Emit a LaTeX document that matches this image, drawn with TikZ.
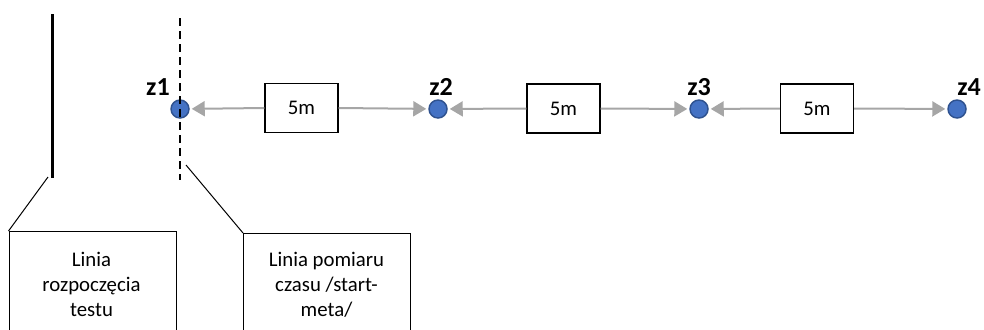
\documentclass[tikz,border=0pt]{standalone}
\usepackage{fontspec}
\setmainfont{Carlito}
\usetikzlibrary{arrows.meta}
\definecolor{arrgray}{RGB}{166,166,166}
\definecolor{ptfill}{RGB}{68,114,196}
\definecolor{ptdraw}{RGB}{47,82,143}
\begin{document}
\begin{tikzpicture}[x=0.75pt,y=-0.75pt,
  distbox/.style={draw=black, line width=0.9pt, minimum width=54.75pt, minimum height=36.75pt, inner sep=0pt, font=\fontsize{15.6}{18.75}\selectfont},
  point/.style={circle, draw=ptdraw, fill=ptfill, line width=1.1pt, minimum size=13.5pt, inner sep=0pt},
  ptlabel/.style={font=\fontsize{19.5}{22}\selectfont\bfseries, inner sep=0pt},
  garrow/.style={draw=arrgray, line width=1.5pt, -{Triangle[length=9.75pt,width=11.25pt]}, shorten >=1.5pt},
  calloutbox/.style={draw=black, line width=0.9pt, anchor=north west, minimum width=125.25pt, minimum height=90pt, inner sep=0pt},
  callouttext/.style={align=center, anchor=north, inner sep=0pt, font=\fontsize{15.6}{18.75}\selectfont},
  leader/.style={draw=black, line width=0.75pt}
]
\useasboundingbox (0,0) rectangle (984,329);
\clip (0,0) rectangle (984,329);

% points
\node[point] (z1) at (180,109) {};
\node[point] (z2) at (438,109) {};
\node[point] (z3) at (699,109) {};
\node[point] (z4) at (957,109) {};

% point labels
\node[ptlabel] (lz1) at (158,87) {z1};
\node[ptlabel] (lz2) at (441,87) {z2};
\node[ptlabel] (lz3) at (699,87) {z3};
\node[ptlabel] (lz4) at (969,87) {z4};

% distance boxes
\node[distbox] (d1) at (301.5,108) {5m};
\node[distbox] (d2) at (563.5,108.5) {5m};
\node[distbox] (d3) at (817,108.5) {5m};

% arrows
\draw[garrow] (d1.west) -- (z1);
\draw[garrow] (d1.east) -- (z2);
\draw[garrow] (d2.west) -- (z2);
\draw[garrow] (d2.east) -- (z3);
\draw[garrow] (d3.west) -- (z3);
\draw[garrow] (d3.east) -- (z4);

% lines
\coordinate (s1) at (52,14);
\coordinate (s2) at (52,178);
\draw[line width=2.25pt] (s1) -- (s2);
\coordinate (m1) at (180,18);
\coordinate (m2) at (180,180);
\draw[line width=1.5pt, dash pattern=on 6pt off 3.75pt] (m1) -- (m2);

% callout boxes
\node[calloutbox] (c1) at (8.5,231) {};
\node[callouttext] (t1) at (91.5,251.5) {Linia\\rozpoczęcia\\testu};
\node[calloutbox] (c2) at (243,233) {};
\node[callouttext] (t2) at (326.5,252) {Linia pomiaru\\czasu /start-\\meta/};

% leaders
\coordinate (ls) at (48,177);
\coordinate (lm) at (186,165);
\draw[leader] (ls) -- (c1.north west);
\draw[leader] (lm) -- (c2.north west);
\end{tikzpicture}
\end{document}
